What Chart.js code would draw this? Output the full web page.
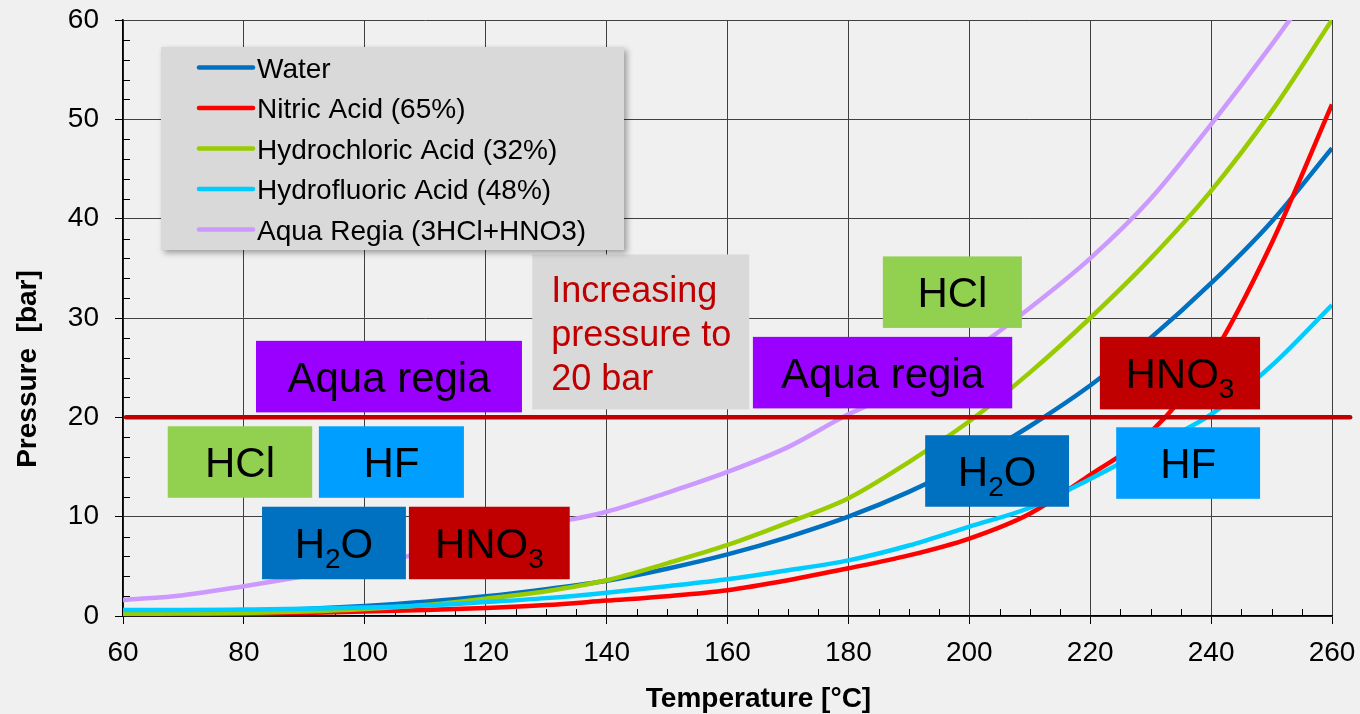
<!DOCTYPE html>
<html>
<head>
<meta charset="utf-8">
<title>Vapour pressure of acids</title>
<script src="https://cdn.jsdelivr.net/npm/chart.js@4.4.0/dist/chart.umd.min.js"></script>
<style>
  html, body { margin: 0; padding: 0; background: #f0f0f0; }
  #wrap { width: 1360px; height: 714px; }
</style>
</head>
<body>
<div id="wrap"><canvas id="pressureChart" width="1360" height="714"></canvas></div>
<script>
// Temperature points [°C]
const temps = [60, 70, 80, 90, 100, 110, 120, 130, 140, 150, 160, 170, 180, 190, 200, 210, 220, 230, 240, 250, 260];

// Pressure [bar]
const water      = [0.2, 0.31, 0.47, 0.7, 1.01, 1.43, 1.98, 2.7, 3.55, 4.76, 6.2, 7.95, 10.0, 12.5, 15.5, 19.1, 23.2, 28.0, 33.5, 39.7, 47.1];
const nitric     = [0.1, 0.13, 0.2, 0.3, 0.45, 0.6, 0.8, 1.1, 1.55, 2.0, 2.6, 3.6, 4.8, 6.1, 7.8, 10.3, 14.2, 18.5, 26.0, 37.5, 51.5];
const hydrochlor = [0.2, 0.25, 0.3, 0.45, 0.7, 1.1, 1.75, 2.5, 3.6, 5.3, 7.15, 9.4, 11.85, 15.5, 19.6, 24.5, 30.0, 36.0, 42.8, 50.8, 60.0];
const hydrofluor = [0.6, 0.6, 0.65, 0.72, 0.85, 1.05, 1.4, 1.8, 2.35, 3.0, 3.7, 4.6, 5.6, 7.1, 9.0, 10.9, 13.8, 17.0, 20.3, 25.2, 31.3];
const aquaRegia  = [1.6, 2.1, 3.0, 4.0, 5.1, 6.4, 7.8, 9.2, 10.5, 12.4, 14.5, 17.0, 20.3, 23.0, 26.5, 31.0, 36.0, 42.0, 49.5, 57.5, 66.0];

const seriesNames  = ['Water', 'Nitric Acid (65%)', 'Hydrochloric Acid (32%)', 'Hydrofluoric Acid (48%)', 'Aqua Regia (3HCl+HNO3)'];
const seriesValues = [water, nitric, hydrochlor, hydrofluor, aquaRegia];
const seriesColors = ['#0070c0', '#ff0000', '#99cc00', '#00ccff', '#cc99ff'];

// axis ranges and titles
const xRange = [60, 260];
const yRange = [0, 60];
const xTitle = 'Temperature [°C]';
const yTitle = 'Pressure  [bar]';

// 20 bar target line
const limitLine = { value: 20, from: 60.5, to: 263 };

// coloured label boxes, in data units (temperature, pressure)
const labelBoxes = [
  { parts: [['Aqua regia']], x0: 82.0, x1: 126.0, y0: 20.5, y1: 27.7, fill: '#9900ff' },
  { parts: [['Aqua regia']], x0: 164.2, x1: 207.1, y0: 20.9, y1: 28.1, fill: '#9900ff' },
  { parts: [['HCl']], x0: 185.7, x1: 208.7, y0: 29.0, y1: 36.2, fill: '#92d050' },
  { parts: [['HCl']], x0: 67.4, x1: 91.3, y0: 11.9, y1: 19.1, fill: '#92d050' },
  { parts: [['HF']], x0: 92.4, x1: 116.4, y0: 11.9, y1: 19.1, fill: '#009fff' },
  { parts: [['H'], ['2', true], ['O']], x0: 83.0, x1: 106.8, y0: 3.7, y1: 11.0, fill: '#0070c0' },
  { parts: [['HNO'], ['3', true]], x0: 107.3, x1: 133.9, y0: 3.7, y1: 11.0, fill: '#c00000' },
  { parts: [['H'], ['2', true], ['O']], x0: 192.7, x1: 216.5, y0: 11.0, y1: 18.2, fill: '#0070c0' },
  { parts: [['HNO'], ['3', true]], x0: 221.6, x1: 248.1, y0: 20.8, y1: 28.1, fill: '#c00000' },
  { parts: [['HF']], x0: 224.3, x1: 248.1, y0: 11.8, y1: 19.0, fill: '#009fff' }
];
const noteBox = { lines: ['Increasing', 'pressure to', '20 bar'], x0: 127.7, x1: 163.6, y0: 20.8, y1: 36.4 };

const FONT = '"Liberation Sans", Arial, sans-serif';

// background colour
const bgPlugin = {
  id: 'bg',
  beforeDraw(chart) {
    const ctx = chart.ctx;
    ctx.save();
    ctx.fillStyle = '#f0f0f0';
    ctx.fillRect(0, 0, chart.width, chart.height);
    ctx.restore();
  }
};

// small inner ticks like Excel minor tick marks
const minorTicks = {
  id: 'minorTicks',
  beforeDatasetsDraw(chart) {
    const { ctx, chartArea: a, scales: { x, y } } = chart;
    ctx.save();
    ctx.strokeStyle = '#000';
    ctx.lineWidth = 1;
    ctx.beginPath();
    for (let t = xRange[0]; t <= xRange[1]; t += 5) {
      if (t % 20 === 0) continue;
      const px = Math.round(x.getPixelForValue(t)) + 0.5;
      ctx.moveTo(px, a.bottom);
      ctx.lineTo(px, a.bottom - 7);
    }
    for (let p = yRange[0]; p <= yRange[1]; p += 2) {
      if (p % 10 === 0) continue;
      const py = Math.round(y.getPixelForValue(p)) + 0.5;
      ctx.moveTo(a.left, py);
      ctx.lineTo(a.left + 7, py);
    }
    ctx.stroke();
    ctx.restore();
  }
};

// axis titles, placed off-centre like in the original sheet
const axisTitles = {
  id: 'axisTitles',
  afterDraw(chart) {
    const { ctx, chartArea: a } = chart;
    ctx.save();
    ctx.fillStyle = '#000';
    ctx.font = 'bold 28px ' + FONT;
    ctx.textAlign = 'center';
    ctx.textBaseline = 'middle';
    ctx.fillText(xTitle, (a.left + a.right) / 2 + 31, a.bottom + 83);
    ctx.translate(28, (a.top + a.bottom) / 2 + 51);
    ctx.rotate(-Math.PI / 2);
    ctx.fillText(yTitle, 0, 0);
    ctx.restore();
  }
};

function drawParts(ctx, parts, cx, cy, size) {
  const subSize = Math.round(size * 0.66);
  let total = 0;
  parts.forEach(function (p) {
    ctx.font = (p[1] ? subSize : size) + 'px ' + FONT;
    total += ctx.measureText(p[0]).width;
  });
  let xx = cx - total / 2;
  const base = cy + size * 0.716 / 2;
  parts.forEach(function (p) {
    ctx.font = (p[1] ? subSize : size) + 'px ' + FONT;
    ctx.fillText(p[0], xx, p[1] ? base + 10 : base);
    xx += ctx.measureText(p[0]).width;
  });
}

// 20 bar line + label boxes
const annotations = {
  id: 'annotations',
  afterDatasetsDraw(chart) {
    const { ctx, scales: { x, y } } = chart;
    ctx.save();
    ctx.strokeStyle = '#c00000';
    ctx.lineWidth = 4.5;
    ctx.lineCap = 'round';
    ctx.beginPath();
    ctx.moveTo(x.getPixelForValue(limitLine.from), y.getPixelForValue(limitLine.value));
    ctx.lineTo(x.getPixelForValue(limitLine.to), y.getPixelForValue(limitLine.value));
    ctx.stroke();

    ctx.textBaseline = 'alphabetic';
    ctx.textAlign = 'left';
    labelBoxes.forEach(function (b) {
      const l = x.getPixelForValue(b.x0), r = x.getPixelForValue(b.x1);
      const t = y.getPixelForValue(b.y1), btm = y.getPixelForValue(b.y0);
      ctx.fillStyle = b.fill;
      ctx.fillRect(l, t, r - l, btm - t);
      ctx.fillStyle = '#000';
      drawParts(ctx, b.parts, (l + r) / 2, (t + btm) / 2, 42);
    });

    const nl = x.getPixelForValue(noteBox.x0), nr = x.getPixelForValue(noteBox.x1);
    const nt = y.getPixelForValue(noteBox.y1), nb = y.getPixelForValue(noteBox.y0);
    ctx.fillStyle = '#d9d9d9';
    ctx.fillRect(nl, nt, nr - nl, nb - nt);
    ctx.fillStyle = '#c00000';
    ctx.font = '36px ' + FONT;
    noteBox.lines.forEach(function (line, i) {
      ctx.fillText(line, nl + 19, nt + 48 + i * 44);
    });
    ctx.restore();
  }
};

// legend box inside the plot, like the Excel one
const insideLegend = {
  id: 'insideLegend',
  afterDraw(chart) {
    const { ctx, chartArea: a } = chart;
    const lx = a.left + 38, ly = a.top + 27, lw = 463, lh = 203;
    ctx.save();
    ctx.shadowColor = 'rgba(0,0,0,0.35)';
    ctx.shadowBlur = 6;
    ctx.shadowOffsetX = 3;
    ctx.shadowOffsetY = 3;
    ctx.fillStyle = '#d9d9d9';
    ctx.fillRect(lx, ly, lw, lh);
    ctx.restore();

    ctx.save();
    ctx.font = '28px ' + FONT;
    ctx.textBaseline = 'alphabetic';
    ctx.lineCap = 'round';
    chart.data.datasets.forEach(function (ds, i) {
      const rowY = ly + 20.5 + i * 40.5;
      ctx.strokeStyle = ds.borderColor;
      ctx.lineWidth = 4.5;
      ctx.beginPath();
      ctx.moveTo(lx + 38, rowY);
      ctx.lineTo(lx + 92, rowY);
      ctx.stroke();
      ctx.fillStyle = '#000';
      ctx.fillText(ds.label, lx + 96, rowY + 10);
    });
    ctx.restore();
  }
};

const datasets = seriesNames.map(function (name, i) {
  return {
    label: name,
    data: temps.map(function (t, k) { return { x: t, y: seriesValues[i][k] }; }),
    borderColor: seriesColors[i],
    backgroundColor: seriesColors[i],
    borderWidth: 4.5,
    pointRadius: 0,
    cubicInterpolationMode: 'monotone',
    order: seriesNames.length - i
  };
});

const ctxLine = document.getElementById('pressureChart').getContext('2d');
const pressureChart = new Chart(ctxLine, {
  type: 'line',
  data: { datasets: datasets },
  options: {
    responsive: false,
    animation: false,
    devicePixelRatio: 1,
    layout: { padding: { top: 20, right: 28, left: 0, bottom: 0 } },
    plugins: {
      legend: { display: false },
      tooltip: { enabled: false }
    },
    scales: {
      x: {
        type: 'linear',
        min: xRange[0],
        max: xRange[1],
        afterFit: function (scale) {
          scale.height = 98;
          scale.paddingLeft = 0;
          scale.paddingRight = 0;
        },
        ticks: { stepSize: 20, color: '#000', padding: 12, font: { family: FONT, size: 28 } },
        grid: { color: '#404040', lineWidth: 1, tickLength: 8, tickColor: '#000' },
        border: { color: '#000', width: 1.5 }
      },
      y: {
        min: yRange[0],
        max: yRange[1],
        afterFit: function (scale) {
          scale.width = 123;
          scale.paddingTop = 0;
          scale.paddingBottom = 0;
        },
        ticks: { stepSize: 10, color: '#000', padding: 16, font: { family: FONT, size: 28 } },
        grid: { color: '#404040', lineWidth: 1, tickLength: 8, tickColor: '#000' },
        border: { color: '#000', width: 1.5 }
      }
    }
  },
  plugins: [bgPlugin, minorTicks, annotations, insideLegend, axisTitles]
});
</script>
</body>
</html>
